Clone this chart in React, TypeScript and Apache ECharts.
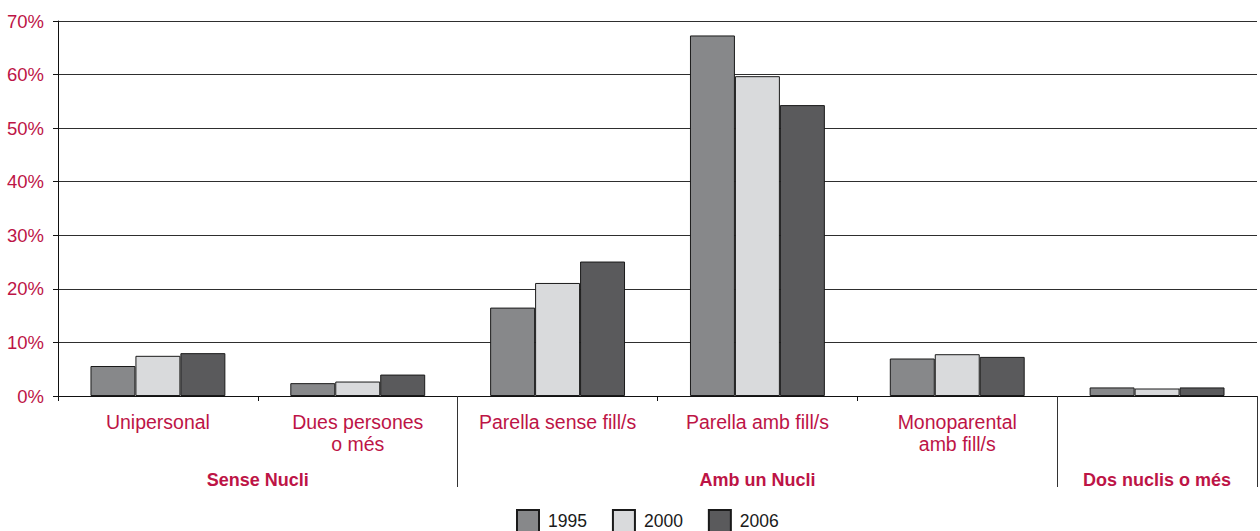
import React, { useEffect, useRef } from "react";
import * as echarts from "echarts";

const categories = [
  "Unipersonal",
  "Dues persones\no més",
  "Parella sense fill/s",
  "Parella amb fill/s",
  "Monoparental\namb fill/s",
  "",
];
const groupLabels: Record<string, string> = {
  "1": "Sense Nucli",
  "3.5": "Amb un Nucli",
  "5.5": "Dos nuclis o més",
};
const separatorIndexes = [2, 5];
const seriesNames = ["1995", "2000", "2006"];
const values1995 = [5.6, 2.4, 16.5, 67.3, 7.0, 1.6];
const values2000 = [7.5, 2.7, 21.1, 59.7, 7.8, 1.4];
const values2006 = [8.0, 4.0, 25.1, 54.3, 7.3, 1.6];
const yTicks = { min: 0, max: 70, interval: 10 };

const CRIMSON = "#bd1446";
const FONT = "'Liberation Sans', Arial, Helvetica, sans-serif";
const colors = ["#87888a", "#d9dadc", "#5a5a5c"];

export default function App() {
  const ref = useRef<HTMLDivElement>(null);
  useEffect(() => {
    document.body.style.margin = "0";
    if (!ref.current) return;
    const chart = echarts.init(ref.current, undefined, { renderer: "svg" });
    const data = [values1995, values2000, values2006];
    chart.setOption({
      animation: false,
      textStyle: { fontFamily: FONT },
      grid: { left: 58, right: 2, top: 21, bottom: 135, containLabel: false },
      legend: {
        left: 516,
        top: 509,
        padding: 0,
        itemWidth: 22,
        itemHeight: 22,
        itemGap: 25,
        icon: "rect",
        textStyle: { fontSize: 17.5, color: "#1a1a1a", fontFamily: FONT, padding: [0, 0, 0, 4] },
        data: seriesNames,
      },
      xAxis: [
        {
          type: "category",
          data: categories,
          position: "bottom",
          axisLine: { show: true, lineStyle: { color: "#111", width: 1 } },
          axisTick: { show: true, length: 5, lineStyle: { color: "#111", width: 1 } },
          axisLabel: {
            interval: 0,
            color: CRIMSON,
            fontSize: 19.5,
            lineHeight: 22,
            margin: 15,
            fontFamily: FONT,
          },
          splitLine: { show: false },
        },
        {
          type: "category",
          data: categories,
          position: "bottom",
          axisLine: { show: false },
          axisTick: {
            show: true,
            length: 91,
            interval: (i: number) => separatorIndexes.indexOf(i) >= 0,
            lineStyle: { color: "#333", width: 1 },
          },
          axisLabel: { show: false },
          splitLine: { show: false },
        },
        {
          type: "value",
          min: 0,
          max: categories.length,
          interval: 0.5,
          position: "bottom",
          axisLine: { show: false },
          axisTick: { show: false },
          splitLine: { show: false },
          axisLabel: {
            margin: 75,
            color: CRIMSON,
            fontSize: 18,
            fontWeight: "bold",
            fontFamily: FONT,
            formatter: (v: number) => groupLabels[String(v)] || "",
          },
        },
      ],
      yAxis: {
        type: "value",
        min: yTicks.min,
        max: yTicks.max,
        interval: yTicks.interval,
        axisLine: { show: true, lineStyle: { color: "#111", width: 1 } },
        axisTick: { show: true, length: 5, lineStyle: { color: "#111", width: 1 } },
        axisLabel: {
          formatter: "{value}%",
          color: CRIMSON,
          fontSize: 18.5,
          margin: 14,
          fontFamily: FONT,
        },
        splitLine: { show: true, lineStyle: { color: "#2e2e2e", width: 1.2 } },
      },
      series: seriesNames.map((name, i) => ({
        name,
        type: "bar",
        xAxisIndex: 0,
        data: data[i],
        barGap: "0%",
        barCategoryGap: "32.5%",
        itemStyle: { color: colors[i], borderColor: "#1a1a1a", borderWidth: 1 },
      })),
    });
    return () => chart.dispose();
  }, []);
  return <div ref={ref} style={{ width: 1260, height: 531 }} />;
}
